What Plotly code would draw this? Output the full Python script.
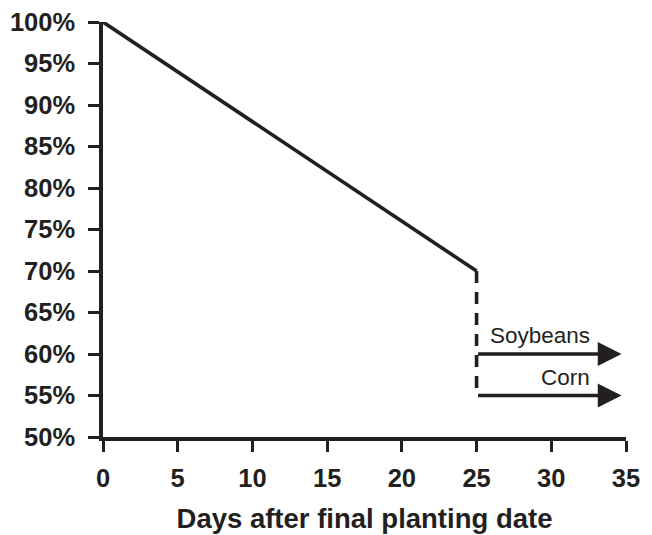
import plotly.graph_objects as go

# Yield potential (% of optimum) by days after the final planting date
days_decline = [0, 25]
pct_decline = [100, 70]

days_drop = [25, 25]
pct_drop = [70, 55]

crop_names = ["Soybeans", "Corn"]
crop_start_day = [25, 25]
crop_end_day = [34.7, 34.7]
crop_pct = [60, 55]
label_day = [32.7, 32.7]

x_ticks = [0, 5, 10, 15, 20, 25, 30, 35]
y_ticks = [50, 55, 60, 65, 70, 75, 80, 85, 90, 95, 100]
y_tick_text = [f"{v}%" for v in y_ticks]

INK = "#231f20"
FONT = "Liberation Sans, Arial, Helvetica, sans-serif"

fig = go.Figure()

fig.add_trace(go.Scatter(
    x=days_decline, y=pct_decline, mode="lines",
    line=dict(color=INK, width=3.6), cliponaxis=False, hoverinfo="skip",
))
fig.add_trace(go.Scatter(
    x=days_drop, y=pct_drop, mode="lines",
    line=dict(color=INK, width=3.6, dash="12px,9px"), cliponaxis=False, hoverinfo="skip",
))

# Horizontal arrows for each crop after the final planting date
for name, x0, x1, y, lx in zip(crop_names, crop_start_day, crop_end_day, crop_pct, label_day):
    fig.add_annotation(
        x=x1, y=y, ax=x0, ay=y, xref="x", yref="y", axref="x", ayref="y",
        showarrow=True, arrowhead=2, arrowsize=1.4, arrowwidth=3.4, arrowcolor=INK,
        text="",
    )
    fig.add_annotation(
        x=lx, y=y, xref="x", yref="y", text=name, showarrow=False,
        xanchor="right", yanchor="bottom", yshift=4,
        font=dict(family=FONT, size=22.5, color=INK),
    )

fig.update_layout(
    width=652, height=535,
    margin=dict(l=103, r=26, t=22, b=98),
    paper_bgcolor="white", plot_bgcolor="white",
    showlegend=False,
    font=dict(family=FONT, color=INK),
)

fig.update_xaxes(
    range=[0, 35], tickvals=x_ticks, ticktext=[str(v) for v in x_ticks],
    showgrid=False, zeroline=False, automargin=False,
    showline=True, linecolor=INK, linewidth=3.5,
    ticks="outside", ticklen=11, tickwidth=2.5, tickcolor=INK,
    ticklabelstandoff=5,
    tickfont=dict(family=FONT, size=25.5, color=INK, weight="bold"),
    title=dict(text="<b>Days after final planting date</b>",
               font=dict(family=FONT, size=27.5, color=INK), standoff=18),
)
fig.update_yaxes(
    range=[50, 100], tickvals=y_ticks, ticktext=y_tick_text,
    showgrid=False, zeroline=False, automargin=False,
    showline=True, linecolor=INK, linewidth=3.5,
    ticks="outside", ticklen=11, tickwidth=2.5, tickcolor=INK,
    ticklabelstandoff=8,
    tickfont=dict(family=FONT, size=25.5, color=INK, weight="bold"),
)

fig.write_html("out.html")
